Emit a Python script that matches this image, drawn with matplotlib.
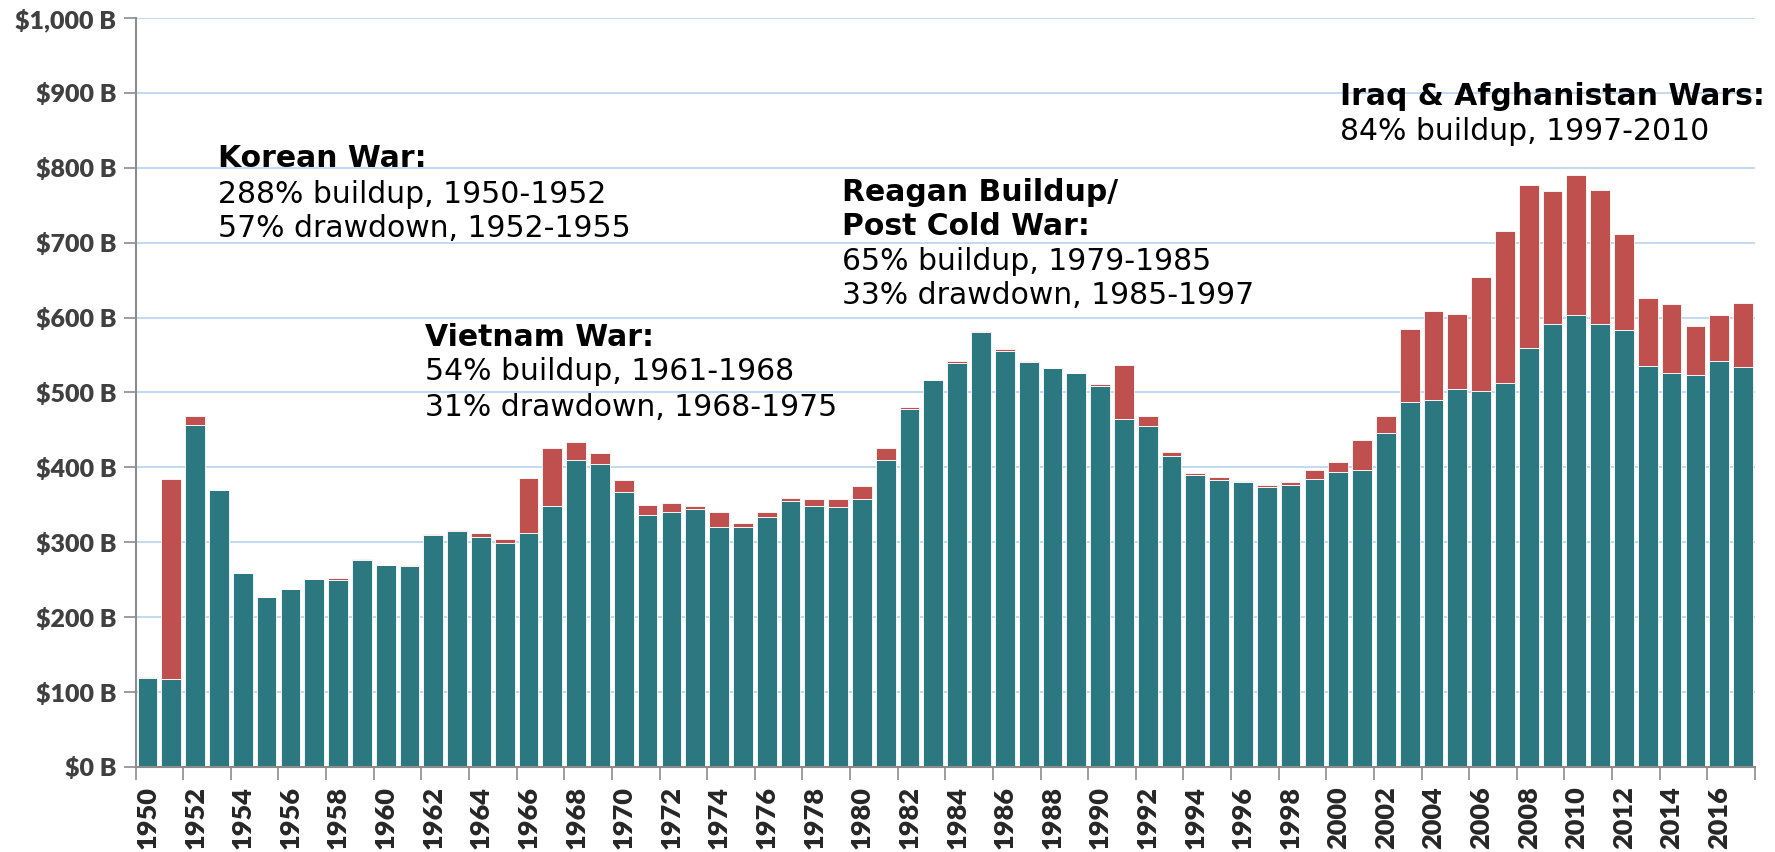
import numpy as np
import matplotlib
matplotlib.use("Agg")
import matplotlib.pyplot as plt
from matplotlib.ticker import FixedLocator, FuncFormatter

# Gasto de defensa por año (miles de millones), base + guerra (OCO)
years = list(range(1950, 2018))
base = [119, 118, 457, 370, 259, 227, 238, 251, 249, 276,
        270, 268, 310, 315, 307, 299, 313, 349, 410, 405,
        367, 337, 341, 344, 320, 320, 334, 355, 348, 347,
        358, 410, 478, 516, 540, 581, 556, 541, 533, 526,
        508, 464, 455, 415, 390, 383, 381, 374, 377, 384,
        394, 397, 446, 487, 490, 505, 502, 513, 559, 592,
        603, 592, 584, 536, 526, 523, 542, 534]
total = [120, 384, 468, 370, 259, 227, 238, 251, 252, 278,
         270, 270, 311, 317, 313, 305, 386, 426, 434, 419,
         383, 350, 352, 349, 341, 326, 341, 359, 358, 358,
         375, 426, 480, 517, 542, 582, 558, 542, 533, 526,
         511, 537, 469, 421, 393, 387, 382, 376, 381, 397,
         407, 437, 469, 585, 609, 605, 654, 716, 777, 769,
         790, 770, 711, 626, 618, 589, 603, 619]
war = [t - b for t, b in zip(total, base)]

TEAL = "#2C7880"
RED = "#C0504D"
GRID = "#BDD7EE"
AXIS = "#8C8C8C"

fig = plt.figure(figsize=(17.75, 8.52), dpi=100)
ax = fig.add_axes([0.0764, 0.0998, 0.9887 - 0.0764, 0.9789 - 0.0998])

x = np.arange(len(years))
ax.bar(x, base, width=0.83, color=TEAL, edgecolor="white", linewidth=0.6, zorder=2)
ax.bar(x, war, bottom=base, width=0.83, color=RED, edgecolor="white", linewidth=0.6, zorder=2)

ax.set_xlim(-0.5, len(years) - 0.5)
ax.set_ylim(0, 1000)

# eje y
ax.set_yticks(range(0, 1001, 100))
ax.yaxis.set_major_formatter(FuncFormatter(lambda v, p: f"${v:,.0f} B"))
ax.grid(axis="y", color=GRID, linewidth=1.3, zorder=0)
ax.tick_params(axis="y", length=9, color=AXIS, width=1.2, pad=5,
               labelsize=18, labelcolor="#404040")
for lab in ax.get_yticklabels():
    lab.set_fontweight("heavy")
    lab.set_family("Lato")

# eje x: marcas en los límites, etiquetas centradas cada 2 años
ax.xaxis.set_major_locator(FixedLocator(np.arange(-0.5, len(years), 2)))
ax.xaxis.set_minor_locator(FixedLocator(x[::2]))
ax.xaxis.set_major_formatter(FuncFormatter(lambda v, p: ""))
ax.set_xticklabels([str(y) for y in years[::2]], minor=True)
ax.tick_params(axis="x", which="major", length=9, color=AXIS, width=1.2)
ax.tick_params(axis="x", which="minor", length=0, pad=14, labelsize=19.5,
               labelcolor="#262626", labelrotation=90)
for lab in ax.get_xticklabels(minor=True):
    lab.set_fontweight("heavy")
    lab.set_family("Lato")
    lab.set_va("top")

for s in ["top", "right"]:
    ax.spines[s].set_visible(False)
for s in ["left", "bottom"]:
    ax.spines[s].set_color(AXIS)
    ax.spines[s].set_linewidth(1.5)

# anotaciones
notas = [
    (2.94, [(801, "Korean War:", True), (753, "288% buildup, 1950-1952", False),
            (708, "57% drawdown, 1952-1955", False)]),
    (11.65, [(562, "Vietnam War:", True), (517, "54% buildup, 1961-1968", False),
             (469, "31% drawdown, 1968-1975", False)]),
    (29.17, [(756, "Reagan Buildup/", True), (710, "Post Cold War:", True),
             (664, "65% buildup, 1979-1985", False), (618, "33% drawdown, 1985-1997", False)]),
    (50.08, [(884, "Iraq & Afghanistan Wars:", True), (837, "84% buildup, 1997-2010", False)]),
]
for xpos, lineas in notas:
    for ypos, txt, negrita in lineas:
        ax.text(xpos, ypos, txt, fontsize=21.5, va="baseline", ha="left",
                fontweight="bold" if negrita else "normal", color="black",
                family="DejaVu Sans", zorder=3)

fig.savefig("out.png", dpi=100)
